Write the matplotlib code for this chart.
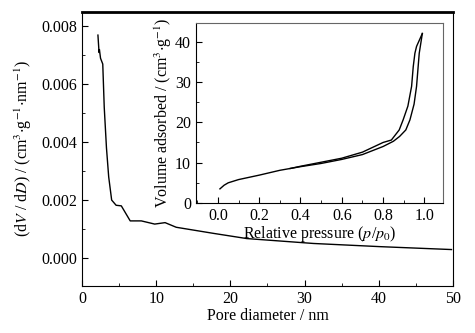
import numpy as np
import matplotlib
matplotlib.use('Agg')
import matplotlib.pyplot as plt
from matplotlib.ticker import MultipleLocator, FormatStrFormatter

params = {
    'font.family': 'Liberation Serif',
    'mathtext.fontset': 'stix',
    'font.size': 11.5,
    'xtick.labelsize': 11.5,
    'ytick.labelsize': 11.5,
    'xtick.direction': 'in',
    'ytick.direction': 'in',
    'xtick.major.size': 4,
    'ytick.major.size': 4,
    'xtick.minor.size': 2,
    'ytick.minor.size': 2,
}
plt.rcParams.update(params)

# pore size distribution
pore_d = [2.15, 2.3, 2.35, 2.5, 2.8, 3.0, 3.3, 3.6, 4.0, 4.6, 5.3, 6.5, 8.0,
          9.8, 11.2, 12.7, 17.7, 22.2, 31.2, 40.2, 49.8]
dvdd = [0.0077, 0.0071, 0.0072, 0.0069, 0.0067, 0.0052, 0.0038, 0.0028, 0.0020,
        0.00182, 0.0018, 0.00128, 0.00128, 0.00117, 0.00122, 0.00106, 0.00085,
        0.00067, 0.0005, 0.00039, 0.00029]

# N2 isotherm, adsorption and desorption branches
p_ads = [0.01, 0.03, 0.05, 0.1, 0.2, 0.3, 0.4, 0.5, 0.6, 0.7, 0.8, 0.85, 0.88,
         0.91, 0.93, 0.95, 0.962, 0.975, 0.99]
v_ads = [3.5, 4.4, 5.0, 5.8, 6.9, 8.1, 9.0, 9.8, 10.8, 12.0, 14.0, 15.3, 16.5,
         18.1, 20.6, 24.5, 28.9, 37.1, 42.0]
p_des = [0.99, 0.962, 0.954, 0.946, 0.938, 0.92, 0.897, 0.878, 0.84, 0.8, 0.7,
         0.6, 0.5, 0.4, 0.35]
v_des = [42.0, 38.8, 37.1, 33.8, 28.9, 24.0, 20.6, 18.1, 15.6, 15.0, 12.6,
         11.1, 10.1, 9.1, 8.55]

fig = plt.figure(figsize=(4.75, 3.33), dpi=100)
ax = fig.add_axes([0.1726, 0.1411, 0.781, 0.823])
ax.plot(pore_d, dvdd, color='black', lw=1.0)
ax.set_xlim(0, 50)
ax.set_ylim(-0.00097, 0.0085)
ax.xaxis.set_major_locator(MultipleLocator(10))
ax.xaxis.set_minor_locator(MultipleLocator(5))
ax.yaxis.set_major_locator(MultipleLocator(0.002))
ax.yaxis.set_minor_locator(MultipleLocator(0.001))
ax.yaxis.set_major_formatter(FormatStrFormatter('%.3f'))
ax.spines['top'].set_linewidth(2.0)
ax.set_xlabel('Pore diameter / nm', labelpad=1)
ax.set_ylabel(r'(d$V$ / d$D$) / (cm$^3$$\cdot$g$^{-1}$$\cdot$nm$^{-1}$)', labelpad=5)

# inset with the isotherm
ins = fig.add_axes([0.4126, 0.3904, 0.52, 0.5405])
ins.plot(p_ads, v_ads, color='black', lw=1.0)
ins.plot(p_des, v_des, color='black', lw=1.0)
ins.set_xlim(-0.106, 1.09)
ins.set_ylim(0, 44.6)
ins.xaxis.set_major_locator(MultipleLocator(0.2))
ins.xaxis.set_minor_locator(MultipleLocator(0.1))
ins.yaxis.set_major_locator(MultipleLocator(10))
ins.yaxis.set_minor_locator(MultipleLocator(5))
ins.xaxis.set_major_formatter(FormatStrFormatter('%.1f'))
for s in ['top', 'right']:
    ins.spines[s].set_color('#666666')
ins.set_xlabel(r'Relative pressure ($p$/$p_0$)', labelpad=0)
ins.set_ylabel(r'Volume adsorbed / (cm$^3$$\cdot$g$^{-1}$)', labelpad=1)

fig.savefig('out.png', dpi=100)
